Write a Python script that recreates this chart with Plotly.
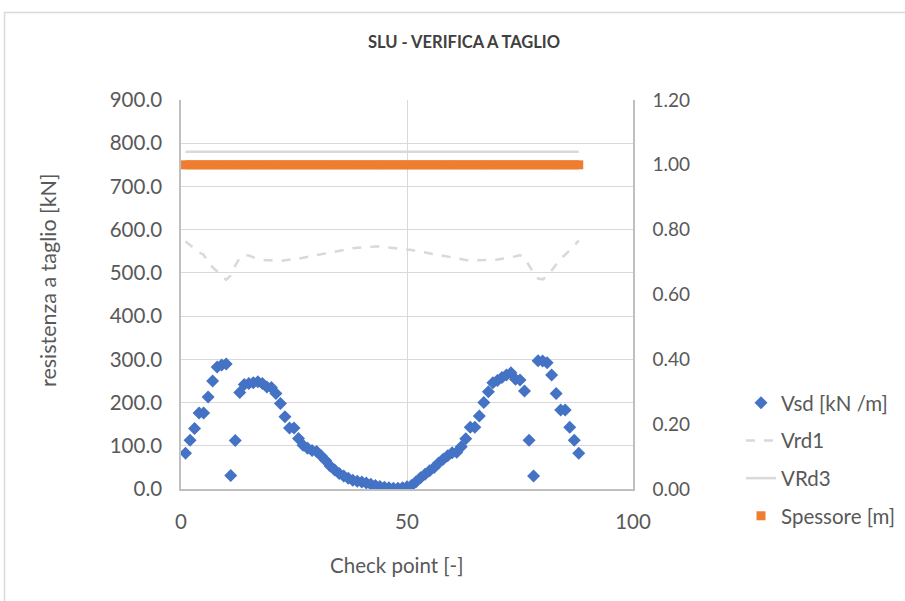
import plotly.graph_objects as go

# ---------------- data ----------------
check_points = list(range(1, 89))

vsd = [83, 113, 140, 176, 176, 213, 250, 282, 287, 289,
       31, 112, 223, 242, 244, 246, 248, 244, 236, 235,
       221, 198, 167, 141, 141, 117, 101, 94, 89, 87,
       77, 66, 53, 44, 36, 30, 25, 20, 18, 16,
       14, 11, 8, 6, 4, 3, 2, 2, 3, 5,
       8, 17, 26, 34, 42, 50, 60, 69, 77, 84,
       85, 98, 116, 143, 143, 169, 200, 225, 246, 251,
       258, 264, 269, 254, 252, 227, 113, 30, 297, 296,
       292, 264, 221, 183, 183, 143, 113, 83]

vrd1 = [573, 565, 555, 547, 542, 525, 513, 503, 492, 484,
        494, 517, 535, 541, 540, 536, 532, 530, 529, 528,
        528, 528, 529, 530, 531, 533, 535, 537, 539, 541,
        544, 546, 548, 550, 552, 554, 555, 557, 558, 559,
        560, 560, 561, 561, 560, 559, 558, 557, 556, 555,
        553, 551, 549, 547, 545, 543, 541, 539, 537, 535,
        533, 531, 530, 529, 529, 529, 529, 530, 530, 531,
        532, 534, 536, 539, 541, 535, 518, 500, 487, 485,
        492, 505, 520, 533, 542, 552, 563, 575]

vrd3 = [780] * 88
spessore = [1.00] * 88

left_ticks = [0, 100, 200, 300, 400, 500, 600, 700, 800, 900]
right_ticks = [0, 0.2, 0.4, 0.6, 0.8, 1.0, 1.2]
x_ticks = [0, 50, 100]

# ---------------- figure ----------------
FONT = "Lato, Carlito, 'Liberation Sans', sans-serif"
TXT = "#595959"
GRID = "#D9D9D9"

fig = go.Figure()

fig.add_trace(go.Scatter(
    x=check_points, y=vsd, mode="markers", name="Vsd [kN /m]",
    marker=dict(symbol="diamond", size=10, color="#4472C4"),
    legendgroup="a"))
fig.add_trace(go.Scatter(
    x=check_points, y=vrd1, mode="lines", name="Vrd1",
    line=dict(color="#D9D9D9", width=2.5, dash="dash"),
    legendgroup="b"))
fig.add_trace(go.Scatter(
    x=check_points, y=vrd3, mode="lines", name="VRd3",
    line=dict(color="#D9D9D9", width=2.5),
    legendgroup="c"))
fig.add_trace(go.Scatter(
    x=check_points, y=spessore, mode="markers", name="Spessore [m]",
    marker=dict(symbol="square", size=9, color="#ED7D31"),
    yaxis="y2", legendgroup="d"))

# page body margin is removed below, so the figure starts at (0, 0)
W, H = 905, 601
L, R, T, B = 181, 633, 100, 489
pw, ph = R - L, B - T

def px(xp):
    return (xp - L) / pw

def py(yp):
    return (B - yp) / ph

fig.update_layout(
    width=W, height=H,
    margin=dict(l=L, r=W - R, t=T, b=H - B, autoexpand=False),
    paper_bgcolor="white", plot_bgcolor="white",
    font=dict(family=FONT, color=TXT, size=20),
    showlegend=True,
    legend=dict(x=px(741), y=py(383), xanchor="left", yanchor="top",
                font=dict(size=20.5, color=TXT), traceorder="grouped",
                tracegroupgap=8, bgcolor="rgba(0,0,0,0)"),
    xaxis=dict(range=[0, 100], tickvals=x_ticks, ticktext=[str(v) for v in x_ticks],
               showgrid=True, gridcolor=GRID, gridwidth=1,
               showline=True, linecolor="#BFBFBF", linewidth=1.5,
               ticks="outside", ticklen=14, tickcolor="rgba(0,0,0,0)",
               zeroline=False, tickfont=dict(size=20.5, color=TXT)),
    yaxis=dict(range=[0, 900], tickvals=left_ticks,
               ticktext=[f"{v:.1f}" for v in left_ticks],
               showgrid=True, gridcolor=GRID, gridwidth=1,
               showline=True, linecolor="#BFBFBF", linewidth=1.5,
               ticks="outside", ticklen=13, tickcolor="rgba(0,0,0,0)",
               zeroline=False, tickfont=dict(size=20.5, color=TXT)),
    yaxis2=dict(range=[0, 1.2], tickvals=right_ticks,
                ticktext=[f"{v:.2f}" for v in right_ticks],
                overlaying="y", side="right", showgrid=False,
                showline=True, linecolor="#BFBFBF", linewidth=1.5,
                ticks="outside", ticklen=14, tickcolor="rgba(0,0,0,0)",
                zeroline=False, tickfont=dict(size=19, color=TXT)),
    annotations=[
        dict(text="<b>SLU - VERIFICA A TAGLIO</b>", xref="paper", yref="paper",
             x=px(464), y=py(42), xanchor="center", yanchor="middle",
             showarrow=False,
             font=dict(size=16.5, color="#404040", family=FONT)),
        dict(text="resistenza a taglio [kN]", xref="paper", yref="paper",
             x=px(48), y=py(280), xanchor="center", yanchor="middle",
             textangle=-90, showarrow=False,
             font=dict(size=21.5, color=TXT)),
        dict(text="Check point [-]", xref="paper", yref="paper",
             x=px(397), y=py(565), xanchor="center", yanchor="middle",
             showarrow=False,
             font=dict(size=20.5, color=TXT)),
    ],
    shapes=[
        dict(type="rect", xref="paper", yref="paper",
             x0=px(4.5), x1=px(920), y0=py(620), y1=py(12.5),
             line=dict(color="#D9D9D9", width=1.5), fillcolor="rgba(0,0,0,0)"),
    ],
)

fig.write_html("out.html",
               config={"displayModeBar": False},
               post_script="document.body.style.margin='0';")
